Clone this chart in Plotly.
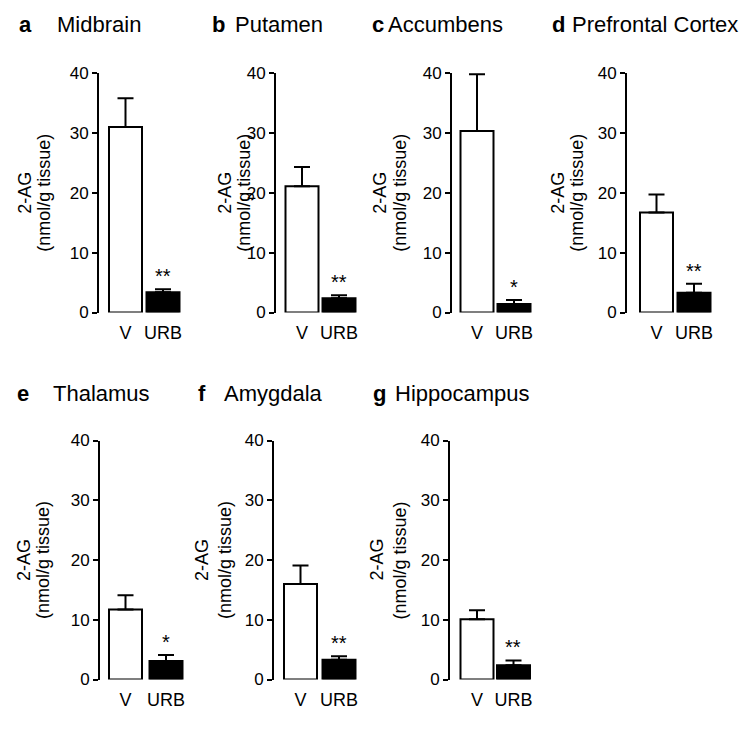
import plotly.graph_objects as go

# ---------------- data ----------------
letters = ["a", "b", "c", "d", "e", "f", "g"]
regions = ["Midbrain", "Putamen", "Accumbens", "Prefrontal Cortex",
           "Thalamus", "Amygdala", "Hippocampus"]
groups = ["V", "URB"]
vehicle_mean = [31.0, 21.1, 30.3, 16.7, 11.7, 16.0, 10.1]
vehicle_sem = [4.8, 3.2, 9.5, 3.0, 2.4, 3.1, 1.5]
urb_mean = [3.4, 2.4, 1.4, 3.3, 3.1, 3.3, 2.4]
urb_sem = [0.5, 0.5, 0.7, 1.5, 1.0, 0.6, 0.8]
significance = ["**", "**", "*", "**", "*", "**", "**"]
y_ticks = [0, 10, 20, 30, 40]
y_title_1 = "2-AG"
y_title_2 = "(nmol/g tissue)"

# ---------------- layout (pixels, page coordinates) ----------------
PAGE_OFF = 8            # default body margin of the html page
W, H = 750 - PAGE_OFF, 729 - PAGE_OFF
FONT = "Liberation Sans, Arial, sans-serif"
# axis x, V-bar centre, URB-bar centre, row
panel_px = [
    (99, 125.5, 163, 0),
    (276, 302, 339, 0),
    (452, 477, 514, 0),
    (627, 656.5, 694, 0),
    (100, 125.5, 166, 1),
    (274, 300.5, 339, 1),
    (450, 477, 513.5, 1),
]
row_y = [(312.5, 73), (679.5, 440.5)]  # (px of 0, px of 40)
title_px = [  # letter x, name x
    (17, 55), (210, 233), (370, 386), (550, 570),
    (15, 51), (196, 222), (371, 393),
]
title_y = [25, 393]
ytitle_px = [(25, 44), (225, 244), (380, 400), (558, 577),
             (24, 43), (202, 225), (376.5, 399.5)]
BAR_W = 33

def px2x(px):
    return (px - PAGE_OFF) / W

def px2y(py):
    return 1 - (py - PAGE_OFF) / H

fig = go.Figure()
layout = dict(
    width=W, height=H, margin=dict(l=0, r=0, t=0, b=0, pad=0, autoexpand=False),
    paper_bgcolor="white", plot_bgcolor="white",
    showlegend=False, font=dict(family=FONT, color="black"),
    annotations=[],
)

for i in range(len(regions)):
    ax_x, c0, c1, row = panel_px[i]
    unit = c1 - c0
    x_lo = -(c0 - ax_x) / unit
    right_px = c1 + BAR_W / 2 + 3
    x_hi = 1 + (right_px - c1) / unit
    y0px, y40px = row_y[row]
    n = "" if i == 0 else str(i + 1)
    xa, ya = "x" + n, "y" + n

    fig.add_trace(go.Bar(
        x=[0, 1], y=[vehicle_mean[i], urb_mean[i]],
        width=[BAR_W / unit] * 2,
        marker=dict(color=["white", "black"],
                    line=dict(color="black", width=2)),
        error_y=dict(type="data", symmetric=False,
                     array=[vehicle_sem[i], urb_sem[i]],
                     arrayminus=[0, 0],
                     color="black", thickness=2, width=8),
        xaxis=xa, yaxis=ya, hoverinfo="skip",
    ))

    layout["xaxis" + n] = dict(
        domain=[px2x(ax_x), px2x(right_px)], range=[x_lo, x_hi],
        anchor=ya, tickmode="array", tickvals=[0, 1], ticktext=groups,
        showline=False, showgrid=False, zeroline=False, automargin=False,
        ticks="outside", ticklen=4, tickcolor="rgba(0,0,0,0)",
        tickfont=dict(size=18, family=FONT, color="black"),
    )
    layout["yaxis" + n] = dict(
        domain=[px2y(y0px), px2y(y40px)], range=[0, 40],
        anchor=xa, tickmode="array", tickvals=y_ticks, automargin=False,
        showline=True, linewidth=2, linecolor="black",
        ticks="outside", ticklen=5, tickwidth=2, tickcolor="black",
        showgrid=False, zeroline=False,
        tickfont=dict(size=17, family=FONT, color="black"),
    )

    # panel title
    lx, nx = title_px[i]
    ty = px2y(title_y[row])
    layout["annotations"].append(dict(
        xref="paper", yref="paper", x=px2x(lx), y=ty, xanchor="left",
        yanchor="middle", showarrow=False, text="<b>" + letters[i] + "</b>",
        font=dict(size=22, family=FONT, color="black")))
    layout["annotations"].append(dict(
        xref="paper", yref="paper", x=px2x(nx), y=ty, xanchor="left",
        yanchor="middle", showarrow=False, text=regions[i],
        font=dict(size=22, family=FONT, color="black")))

    # y titles
    t1x, t2x = ytitle_px[i]
    ymid = px2y((y0px + y40px) / 2)
    for tx, txt in ((t1x, y_title_1), (t2x, y_title_2)):
        layout["annotations"].append(dict(
            xref="paper", yref="paper", x=px2x(tx), y=ymid,
            xanchor="center", yanchor="middle", textangle=-90,
            showarrow=False, text=txt,
            font=dict(size=18, family=FONT, color="black")))

    # significance stars
    layout["annotations"].append(dict(
        xref=xa, yref=ya, x=1, y=urb_mean[i] + urb_sem[i],
        xanchor="center", yanchor="bottom", showarrow=False,
        text=significance[i], font=dict(size=20, family=FONT, color="black")))

fig.update_layout(**layout)
fig.write_html("out.html")
